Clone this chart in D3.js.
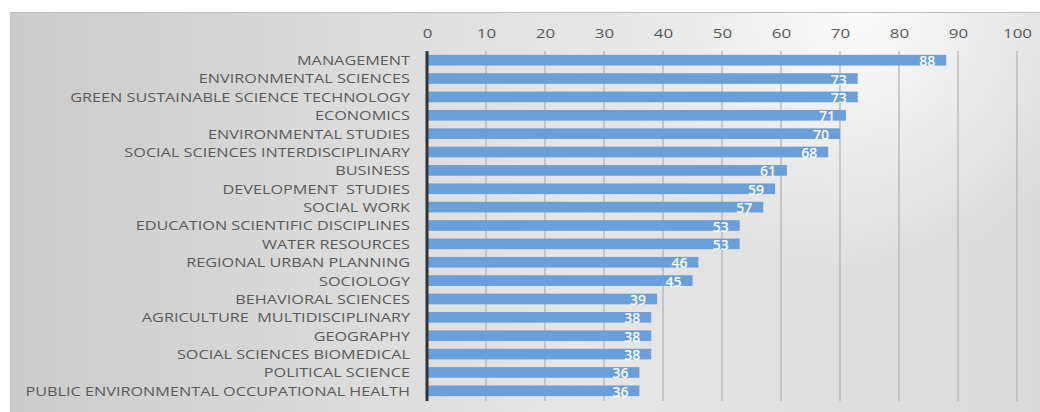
<!DOCTYPE html>
<html><head><meta charset="utf-8">
<script src="https://cdn.jsdelivr.net/npm/d3@7"></script>
<style>body{margin:0;background:#fff}svg{display:block}</style>
</head><body>
<svg id="c" width="1040" height="412"></svg>
<script>
const categories = ["MANAGEMENT","ENVIRONMENTAL SCIENCES","GREEN SUSTAINABLE SCIENCE TECHNOLOGY","ECONOMICS","ENVIRONMENTAL STUDIES","SOCIAL SCIENCES INTERDISCIPLINARY","BUSINESS","DEVELOPMENT  STUDIES","SOCIAL WORK","EDUCATION SCIENTIFIC DISCIPLINES","WATER RESOURCES","REGIONAL URBAN PLANNING","SOCIOLOGY","BEHAVIORAL SCIENCES","AGRICULTURE  MULTIDISCIPLINARY","GEOGRAPHY","SOCIAL SCIENCES BIOMEDICAL","POLITICAL SCIENCE","PUBLIC ENVIRONMENTAL OCCUPATIONAL HEALTH"];
const values = [88,73,73,71,70,68,61,59,57,53,53,46,45,39,38,38,38,36,36];
const tickValues = [0,10,20,30,40,50,60,70,80,90,100];

const svg = d3.select("#c");
const defs = svg.append("defs");
const lg = defs.append("linearGradient").attr("id","bg").attr("x1","0").attr("x2","1").attr("y1","0").attr("y2","0");
lg.append("stop").attr("offset","0%").attr("stop-color","#cbcbcb");
lg.append("stop").attr("offset","55%").attr("stop-color","#e6e6e6");
lg.append("stop").attr("offset","100%").attr("stop-color","#dadada");
const rg = defs.append("radialGradient").attr("id","hl").attr("gradientUnits","userSpaceOnUse")
  .attr("cx",860).attr("cy",10).attr("r",260);
rg.append("stop").attr("offset","0%").attr("stop-color","#ffffff").attr("stop-opacity",0.9);
rg.append("stop").attr("offset","100%").attr("stop-color","#ffffff").attr("stop-opacity",0);

svg.append("rect").attr("x",10).attr("y",12).attr("width",1030).attr("height",400).attr("fill","url(#bg)");
svg.append("rect").attr("x",10).attr("y",12).attr("width",1030).attr("height",400).attr("fill","url(#hl)");
svg.append("line").attr("x1",10).attr("x2",1040).attr("y1",12.5).attr("y2",12.5).attr("stroke","#bdbdbd").attr("stroke-width",1);

const x = d3.scaleLinear().domain([0,100]).range([427,1017]);
const y = d3.scaleBand().domain(categories).range([51,400]).paddingInner(0.42).paddingOuter(0.21);

// gridlines
svg.append("g").selectAll("line").data(tickValues.slice(1)).join("line")
  .attr("x1",d=>x(d)).attr("x2",d=>x(d)).attr("y1",51).attr("y2",401)
  .attr("stroke","#b0b0b0").attr("stroke-width",1.2);

// top axis labels
const ax = svg.append("g").attr("transform","translate(0,38)")
  .call(d3.axisTop(x).tickValues(tickValues).tickSize(0).tickPadding(0));
ax.select(".domain").remove();
ax.selectAll("text").attr("fill","#595959").style("font-family","'Open Sans', sans-serif").style("font-size","13px")
  .attr("transform","scale(1.3,1)");

// bars
svg.append("g").selectAll("rect").data(values).join("rect")
  .attr("x",x(0)).attr("y",(d,i)=>y(categories[i]))
  .attr("width",d=>x(d)-x(0)).attr("height",y.bandwidth())
  .attr("fill","#6a9fd9");

// y axis
const ay = svg.append("g").attr("transform",`translate(${x(0)},0)`)
  .call(d3.axisLeft(y).tickSize(0).tickPadding(0));
ay.select(".domain").remove();
ay.selectAll("text").attr("fill","#595959").attr("x",0).attr("dy","0.38em")
  .attr("transform","translate(-17,0) scale(1.25,1)")
  .style("font-family","'Open Sans', sans-serif").style("font-size","13px").style("white-space","pre");
svg.append("line").attr("x1",x(0)).attr("x2",x(0)).attr("y1",51).attr("y2",401).attr("stroke","#333").attr("stroke-width",3);

// data labels
svg.append("g").selectAll("text").data(values).join("text")
  .attr("x",d=>x(d)-11).attr("y",(d,i)=>y(categories[i])+y.bandwidth()/2+6)
  .attr("text-anchor","end").attr("fill","#fff")
  .style("font-family","'Open Sans', sans-serif").style("font-size","14px").style("font-weight","600")
  .text(d=>d);
</script>
</body></html>
